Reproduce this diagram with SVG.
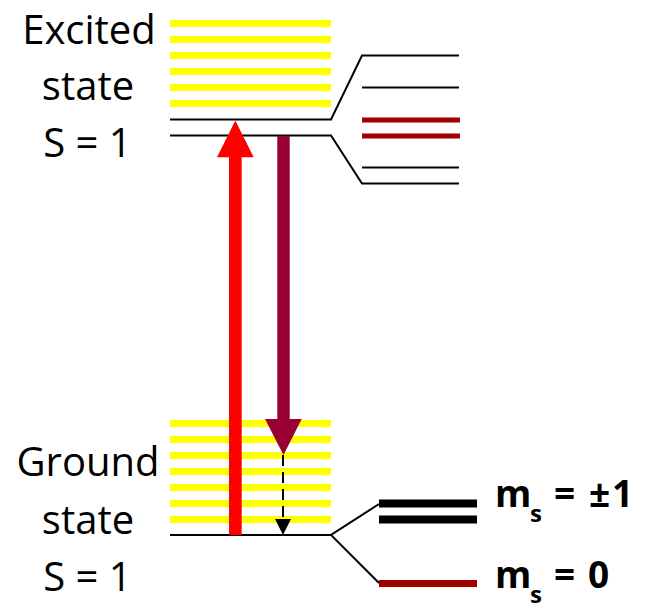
<svg xmlns="http://www.w3.org/2000/svg" width="654" height="613" viewBox="0 0 654 613">
  <style>
    .lbl { font-family: "Open Sans", "Liberation Sans", sans-serif; font-size: 40px; fill: #000; text-anchor: middle; }
    .ms { font-family: "Open Sans", "Liberation Sans", sans-serif; font-size: 37px; font-weight: bold; fill: #000; }
    .sub { font-size: 24px; }
    .vib { fill: #FFFF00; }
    .lvl { stroke: #000; stroke-width: 2; fill: none; }
    .dred { stroke: #A00000; stroke-width: 5; }
  </style>
  <rect width="654" height="613" fill="#fff"/>

  <g id="excited-label">
    <text class="lbl" x="89" y="43.5">Excited</text>
    <text class="lbl" x="88" y="100">state</text>
    <text class="lbl" x="87.5" y="157">S = 1</text>
  </g>

  <g id="ground-label">
    <text class="lbl" x="88" y="476">Ground</text>
    <text class="lbl" x="88" y="533.5">state</text>
    <text class="lbl" x="87.5" y="591">S = 1</text>
  </g>

  <g id="excited-vibrational">
    <rect class="vib" x="170" y="20" width="161" height="7"/>
    <rect class="vib" x="170" y="36" width="161" height="7"/>
    <rect class="vib" x="170" y="52" width="161" height="7"/>
    <rect class="vib" x="170" y="68" width="161" height="7"/>
    <rect class="vib" x="170" y="84" width="161" height="7"/>
    <rect class="vib" x="170" y="100" width="161" height="7"/>
  </g>

  <g id="ground-vibrational">
    <rect class="vib" x="170" y="420" width="161" height="7"/>
    <rect class="vib" x="170" y="436" width="161" height="7"/>
    <rect class="vib" x="170" y="452" width="161" height="7"/>
    <rect class="vib" x="170" y="468" width="161" height="7"/>
    <rect class="vib" x="170" y="484" width="161" height="7"/>
    <rect class="vib" x="170" y="500" width="161" height="7"/>
    <rect class="vib" x="170" y="516" width="161" height="7"/>
  </g>

  <g id="excited-sublevels">
    <line class="lvl" x1="362" y1="87.5" x2="459" y2="87.5"/>
    <line class="dred" x1="362" y1="120" x2="460" y2="120"/>
    <line class="dred" x1="362" y1="136" x2="460" y2="136"/>
    <line class="lvl" x1="362" y1="167.5" x2="459" y2="167.5"/>
  </g>

  <g id="ground-sublevels">
    <rect x="379" y="499.5" width="98" height="8" fill="#000"/>
    <rect x="379" y="515.5" width="98" height="8" fill="#000"/>
    <rect x="379" y="580" width="98" height="7" fill="#A00000"/>
  </g>

  <g id="ms-labels">
    <text class="ms" y="507"><tspan x="495">m</tspan><tspan class="sub" x="530" y="522">s</tspan><tspan x="554" y="507">=</tspan><tspan x="589">±</tspan><tspan x="612">1</tspan></text>
    <text class="ms" y="588"><tspan x="495">m</tspan><tspan class="sub" x="530" y="603">s</tspan><tspan x="554" y="588">=</tspan><tspan x="588">0</tspan></text>
  </g>

  <g id="connectors">
    <polyline class="lvl" points="170,119.5 331,119.5 362,55.5 459,55.5"/>
    <polyline class="lvl" points="170,135.5 331,135.5 362,183.5 459,183.5"/>
    <line class="lvl" x1="170" y1="535" x2="331" y2="535"/>
    <polyline class="lvl" points="379,504 331,535 379,583"/>
    <path d="M229,535 L229,157.3 L217,157.3 L235.3,120.5 L253.7,157.3 L241.7,157.3 L241.7,535 Z" fill="#FF0000"/>
    <path d="M277.3,136 L289.7,136 L289.7,419 L301.7,419 L283.5,455 L265,419 L277.3,419 Z" fill="#990033"/>
    <line x1="283" y1="455" x2="283" y2="521" stroke="#000" stroke-width="2" stroke-dasharray="11,6"/>
    <polygon points="275,519 291,519 283,535" fill="#000"/>
  </g>
</svg>
